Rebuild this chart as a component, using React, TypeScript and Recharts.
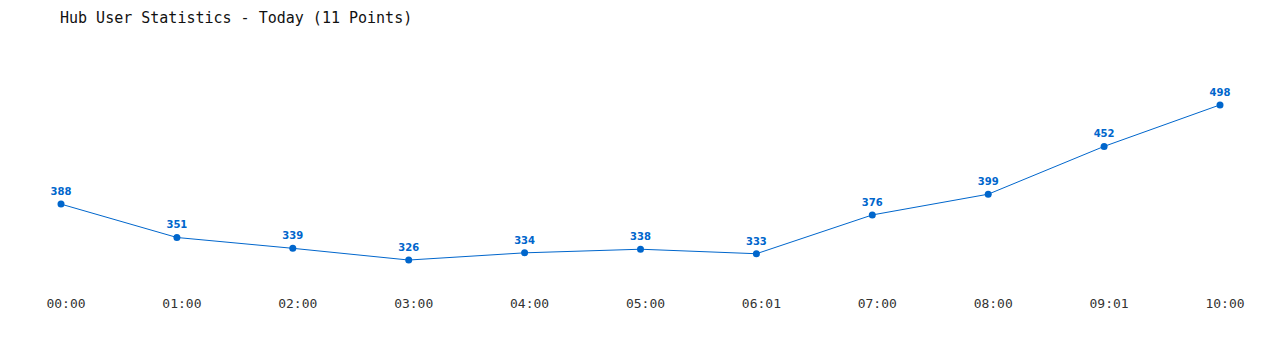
import React from "react";
import { LineChart, Line, XAxis, YAxis, LabelList } from "recharts";

const categories = ["00:00", "01:00", "02:00", "03:00", "04:00", "05:00", "06:01", "07:00", "08:00", "09:01", "10:00"];
const users = [388, 351, 339, 326, 334, 338, 333, 376, 399, 452, 498];
const title = "Hub User Statistics - Today (11 Points)";

const data = categories.map((c, i) => ({ time: c, users: users[i] }));

const BLUE = "#0066cc";

export default function App() {
  return (
    <div style={{ position: "relative", width: 1264, height: 342 }}>
      <div
        style={{
          position: "absolute",
          left: 52,
          top: 0,
          height: 20,
          lineHeight: "20px",
          fontFamily: "'DejaVu Sans Mono', monospace",
          fontSize: 15,
          fontWeight: "normal",
          color: "#111",
          whiteSpace: "pre",
        }}
      >
        {title}
      </div>
      <LineChart
        width={1264}
        height={342}
        data={data}
        margin={{ top: 59, right: 52, left: 53, bottom: 5 }}
      >
        <XAxis
          dataKey="time"
          height={61.5}
          axisLine={false}
          tickLine={false}
          tickMargin={9}
          interval={0}
          tick={{ fontFamily: "'DejaVu Sans Mono', monospace", fontSize: 13, fill: "#333", dx: 5 }}
        />
        <YAxis hide domain={[300, 540]} />
        <Line
          type="linear"
          dataKey="users"
          stroke={BLUE}
          strokeWidth={1}
          dot={{ r: 3.5, fill: BLUE, stroke: BLUE, strokeWidth: 0 }}
          isAnimationActive={false}
        >
          <LabelList
            dataKey="users"
            position="top"
            offset={9}
            style={{ fontFamily: "'DejaVu Sans', sans-serif", fontSize: 10, fontWeight: "bold", fill: BLUE }}
          />
        </Line>
      </LineChart>
    </div>
  );
}
